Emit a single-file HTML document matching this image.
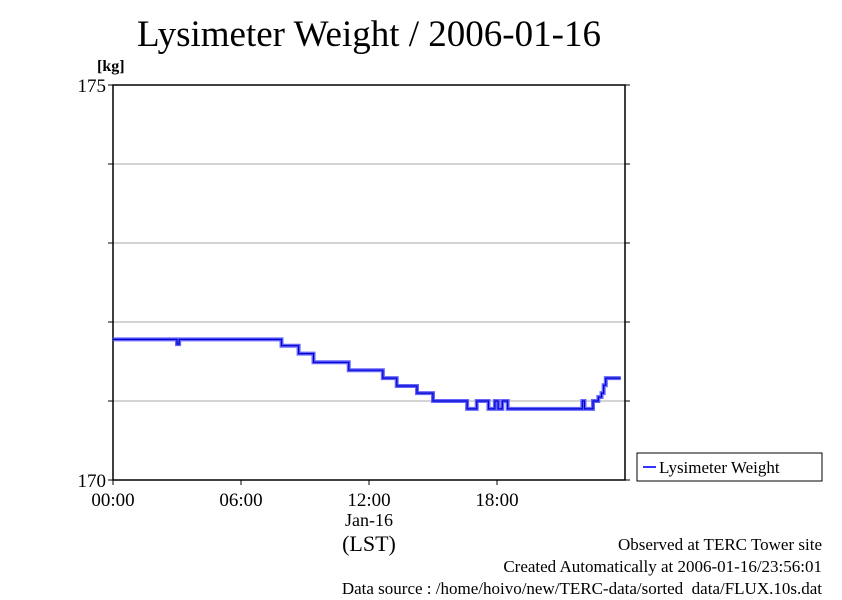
<!DOCTYPE html>
<html><head><meta charset="utf-8"><style>
body{margin:0;background:#fff;}
svg text{font-family:"Liberation Serif",serif;fill:#000;}
</style></head><body>
<svg width="842" height="595" xmlns="http://www.w3.org/2000/svg">
<text x="369" y="46" font-size="37" text-anchor="middle">Lysimeter Weight / 2006-01-16</text>
<text x="97" y="71" font-size="16" font-weight="bold">[kg]</text>
<g id="grid"></g>
<rect x="113" y="85" width="512" height="395" fill="none" stroke="#000" stroke-width="1.5"/>
<g id="axes"></g>
<path id="series" fill="none" stroke="#5555ff" stroke-width="4" stroke-opacity="0.9"/>
<path id="series2" fill="none" stroke="#0000cc" stroke-width="1.2"/>
<text x="369" y="551" font-size="22" text-anchor="middle">(LST)</text>
<text x="369" y="526" font-size="18" text-anchor="middle">Jan-16</text>
<rect x="637" y="453" width="185" height="28" fill="#fff" stroke="#000"/>
<line x1="643" y1="467" x2="656" y2="467" stroke="#3333ff" stroke-width="2"/>
<text x="659" y="473" font-size="17">Lysimeter Weight</text>
<text x="822" y="550" font-size="17" text-anchor="end">Observed at TERC Tower site</text>
<text x="822" y="572" font-size="17" text-anchor="end">Created Automatically at 2006-01-16/23:56:01</text>
<text x="822" y="594" font-size="17" text-anchor="end">Data source : /home/hoivo/new/TERC-data/sorted_data/FLUX.10s.dat</text>
</svg>
<script>
const hours=[0,3.0,3.1,7.9,8.7,9.4,11.05,12.65,13.3,14.25,15.0,16.6,17.05,17.6,17.9,18.05,18.25,18.5,22.0,22.1,22.5,22.75,22.9,23.0,23.1,23.8];
const weights=[171.78,171.72,171.78,171.70,171.60,171.49,171.39,171.29,171.19,171.10,171.0,170.9,171.0,170.9,171.0,170.9,171.0,170.9,171.0,170.9,171.0,171.05,171.1,171.2,171.29,171.29];
const yTicks=[170,171,172,173,174,175];
const yTickLabels=["170","","","","","175"];
const xTicks=[0,6,12,18];
const xTickLabels=["00:00","06:00","12:00","18:00"];
const X=h=>113+h*512/24, Y=v=>480-(v-170)*79;
const NS="http://www.w3.org/2000/svg";
const grid=document.getElementById('grid'),axes=document.getElementById('axes');
function mk(tag,attrs,parent){const e=document.createElementNS(NS,tag);for(const k in attrs)e.setAttribute(k,attrs[k]);parent.appendChild(e);return e;}
yTicks.forEach((v,i)=>{
 if(v>170&&v<175){const g=mk('line',{x1:113,x2:625,y1:Y(v),y2:Y(v),stroke:'#aaa'},grid);
 
 }
 const t=mk('line',{x1:108,x2:113,y1:Y(v),y2:Y(v),stroke:'#000'},axes);
 
 
 const t2=mk('line',{x1:625,x2:630,y1:Y(v),y2:Y(v),stroke:'#000'},axes);
 
 
 if(yTickLabels[i]){const l=mk('text',{x:106,y:Y(v)+7,'font-size':19,'text-anchor':'end'},axes);l.textContent=yTickLabels[i];
 
 }
});
xTicks.forEach((h,i)=>{
 const t=mk('line',{x1:X(h),x2:X(h),y1:480,y2:485,stroke:'#000'},axes);
 
 
 const l=mk('text',{x:X(h),y:506,'font-size':19,'text-anchor':'middle'},axes);l.textContent=xTickLabels[i];
 
 
});
let d='M'+X(hours[0])+','+Y(weights[0]);
for(let i=1;i<hours.length;i++){d+=' H'+X(hours[i])+' V'+Y(weights[i]);}
d+=' H'+X(24-0.2);
document.getElementById('series').setAttribute('d',d);
document.getElementById('series2').setAttribute('d',d);
</script>
</body></html>
